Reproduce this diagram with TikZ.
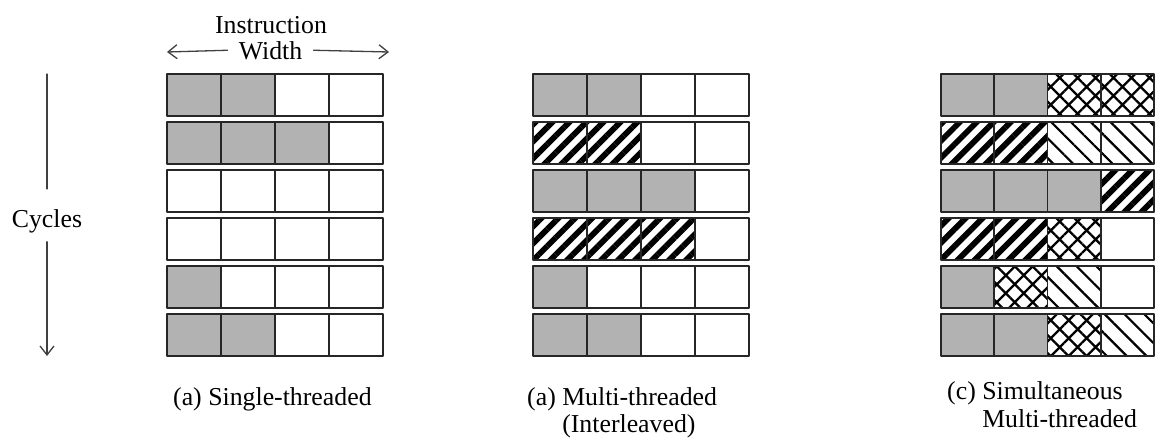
\documentclass[tikz,border=0pt]{standalone}
\usepackage{fontspec}
\setmainfont{Liberation Serif}
\usetikzlibrary{arrows.meta,patterns.meta}

\tikzset{
  cellline/.style={line width=1.8pt,draw=black!85},
  slotg/.style={fill=black!30},
  slotw/.style={fill=white},
  slots/.style={pattern={Lines[angle=45,distance=12pt,line width=5.8pt]}},
  slotx/.style={pattern={Hatch[angle=45,distance=12.7pt,line width=2.3pt]}},
  slotd/.style={pattern={Lines[angle=-45,distance=14pt,line width=2.2pt]}},
  axisline/.style={line width=1.3pt,draw=black!75},
  lbl/.style={font=\fontsize{25.8pt}{28pt}\selectfont,inner sep=0pt},
}

\begin{document}
\begin{tikzpicture}[x=1pt,y=-1pt,line cap=round,line join=round]
  \useasboundingbox (0,0) rectangle (1155,437);
  % single-threaded
  \foreach \r/\codes in {0/{g,g,w,w},1/{g,g,g,w},2/{w,w,w,w},3/{w,w,w,w},4/{g,w,w,w},5/{g,g,w,w}}
    \foreach \c [count=\i from 0] in \codes
      \draw[cellline,slot\c] (167+\i*54,74+\r*48) rectangle ++(54,42);
  % interleaved
  \foreach \r/\codes in {0/{g,g,w,w},1/{s,s,w,w},2/{g,g,g,w},3/{s,s,s,w},4/{g,w,w,w},5/{g,g,w,w}}
    \foreach \c [count=\i from 0] in \codes
      \draw[cellline,slot\c] (533+\i*54,74+\r*48) rectangle ++(54,42);
  % simultaneous
  \foreach \r/\codes in {0/{g,g,x,x},1/{s,s,d,d},2/{g,g,g,s},3/{s,s,x,w},4/{g,x,d,w},5/{g,g,x,d}}
    \foreach \c [count=\i from 0] in \codes
      \draw[cellline,slot\c] (941+\i*53.25,74+\r*48) rectangle ++(53.25,42);

  \node[lbl,anchor=base] (instr) at (271,33) {Instruction};
  \node[lbl,anchor=base,inner xsep=11pt] (width) at (270.5,59) {Width};
  \coordinate (wleft) at (167,52);
  \coordinate (wright) at (389,52);
  \draw[axisline,-{Straight Barb[length=9pt,width=14pt]}] (width.west) -- (wleft);
  \draw[axisline,-{Straight Barb[length=9pt,width=14pt]}] (width.east) -- (wright);

  \node[lbl,anchor=base] (cycles) at (47,227) {Cycles};
  \coordinate (cyctop) at (47,74);
  \coordinate (cycbot) at (47,356);
  \draw[axisline] (cyctop) -- ([yshift=20pt]cycles.north);
  \draw[axisline,-{Straight Barb[length=9pt,width=14pt]}] ([yshift=-9pt]cycles.south) -- (cycbot);

  \node[lbl,anchor=base west] (capa) at (173,405) {(a) Single-threaded};
  \node[lbl,anchor=base west] (capb) at (527,405) {(a) Multi-threaded};
  \node[lbl,anchor=base west] (capbb) at (527,432) {\hphantom{(a) }(Interleaved)};
  \node[lbl,anchor=base west] (capc) at (947,399) {(c) Simultaneous};
  \node[lbl,anchor=base west] (capcc) at (947,427) {\hphantom{(c) }Multi-threaded};
\end{tikzpicture}
\end{document}
